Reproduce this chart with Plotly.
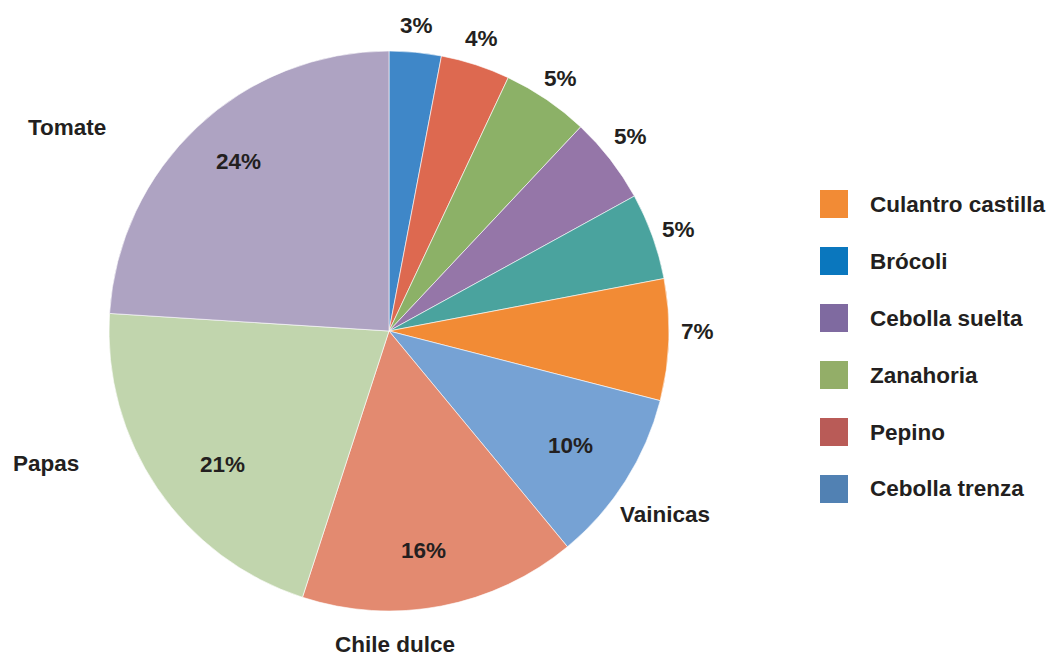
import plotly.graph_objects as go

# Slice data, clockwise from 12 o'clock
labels = ["Cebolla trenza", "Pepino", "Zanahoria", "Cebolla suelta", "Brócoli",
          "Culantro castilla", "Vainicas", "Chile dulce", "Papas", "Tomate"]
values = [3, 4, 5, 5, 5, 7, 10, 16, 21, 24]
slice_colors = ["#3f87c8", "#dd6950", "#8cb167", "#9576a8", "#4aa39e",
                "#f28b35", "#76a2d4", "#e38a70", "#c1d5ad", "#aea3c2"]

# Category names written beside the large slices
named_slices = ["Vainicas", "Chile dulce", "Papas", "Tomate"]

# Legend entries
legend_labels = ["Culantro castilla", "Brócoli", "Cebolla suelta",
                 "Zanahoria", "Pepino", "Cebolla trenza"]
legend_colors = ["#f28b35", "#0a77be", "#7f6aa0", "#93ae68", "#b95b57", "#5181b3"]

W, H = 1049, 659
CX, CY, R = 389, 331, 280

# Label anchor points (pixels) for the percentage text of each slice
pct_pos = [(416, 26), (481, 38), (560, 79), (630, 136), (678, 229),
           (697, 331), (570, 445), (423, 550), (222, 464), (238, 162)]
# Anchor points (pixels) for the category names; None = sit on the bottom edge
name_pos = {"Vainicas": (665, 514), "Chile dulce": (395, None),
            "Papas": (46, 463), "Tomate": (67, 127)}

FONT = dict(family="Liberation Sans, Arial, sans-serif", size=22.5, color="#231f20", weight="bold")


def px(x):
    return x / W


def py(y):
    return 1 - y / H


fig = go.Figure(go.Pie(
    labels=labels,
    values=values,
    sort=False,
    direction="clockwise",
    rotation=0,
    textinfo="none",
    hoverinfo="label+percent",
    marker=dict(colors=slice_colors, line=dict(color="white", width=0.6)),
    domain=dict(x=[px(CX - R), px(CX + R)], y=[py(CY + R), py(CY - R)]),
    showlegend=False,
))

annotations = []
for v, (x, y) in zip(values, pct_pos):
    annotations.append(dict(text=f"{v}%", x=px(x), y=py(y), xref="paper", yref="paper",
                            xanchor="center", yanchor="middle", showarrow=False, font=FONT))
for name in named_slices:
    x, y = name_pos[name]
    if y is None:
        annotations.append(dict(text=name, x=px(x), y=0, xref="paper", yref="paper",
                                xanchor="center", yanchor="bottom", showarrow=False, font=FONT))
    else:
        annotations.append(dict(text=name, x=px(x), y=py(y), xref="paper", yref="paper",
                                xanchor="center", yanchor="middle", showarrow=False, font=FONT))

# Hand-built legend: colour squares with bold names
shapes = []
LEG_X, LEG_Y0, LEG_DY, SQ = 820, 204, 57, 28
for i, (name, col) in enumerate(zip(legend_labels, legend_colors)):
    yc = LEG_Y0 + i * LEG_DY
    shapes.append(dict(type="rect", xref="paper", yref="paper",
                       x0=px(LEG_X), x1=px(LEG_X + SQ), y0=py(yc + SQ / 2), y1=py(yc - SQ / 2),
                       fillcolor=col, line=dict(width=0)))
    annotations.append(dict(text=name, x=px(868), y=py(yc), xref="paper", yref="paper",
                            xanchor="left", yanchor="middle", showarrow=False, font=FONT))

fig.update_layout(
    width=W, height=H,
    margin=dict(l=0, r=0, t=0, b=0),
    paper_bgcolor="white",
    plot_bgcolor="white",
    annotations=annotations,
    shapes=shapes,
)

fig.write_html("out.html")
